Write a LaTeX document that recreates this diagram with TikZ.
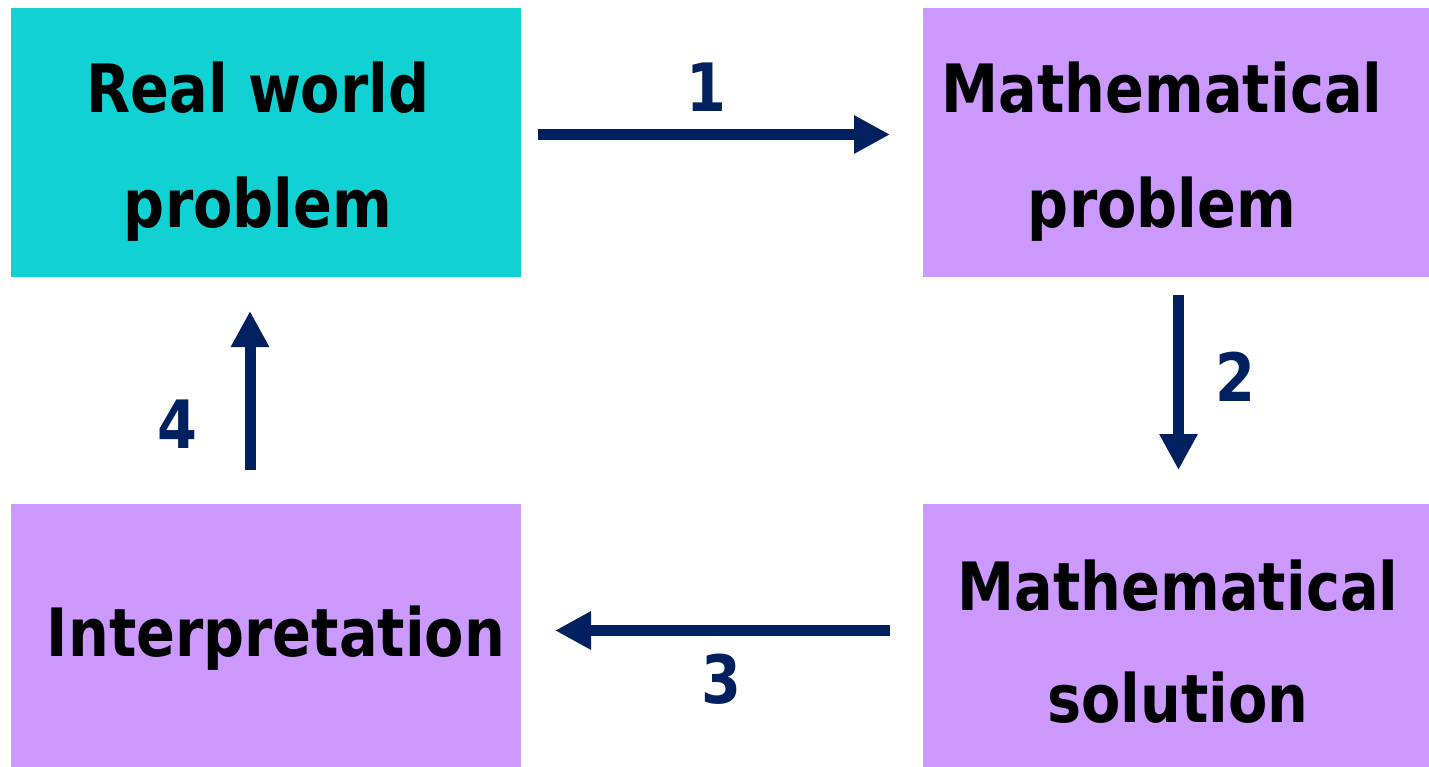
\documentclass[tikz,border=0pt]{standalone}
\usepackage{fontspec}
\usetikzlibrary{arrows.meta}
\newfontfamily\boxfont[FakeStretch=0.86]{DejaVu Sans}
\definecolor{realcyan}{HTML}{11D1D3}
\definecolor{lavender}{HTML}{CC99FF}
\definecolor{navyarrow}{HTML}{002060}
\tikzset{
  boxtext/.style={anchor=base, inner sep=0pt, font=\boxfont\bfseries\fontsize{50}{60}\selectfont, text=black},
  numlabel/.style={anchor=base, inner sep=0pt, font=\boxfont\bfseries\fontsize{50}{60}\selectfont, text=navyarrow},
  flow/.style={draw=navyarrow, line width=8.25pt, -{Triangle[length=27pt,width=27pt]}},
}
\begin{document}
\begin{tikzpicture}[x=0.75pt,y=-0.75pt]
\useasboundingbox (0,0) rectangle (1429,767);
\fill[white] (0,0) rectangle (1429,767);
% boxes
\fill[realcyan] (11,8) rectangle (521,277);
\node[inner sep=0pt, minimum width=510*0.75pt, minimum height=269*0.75pt] (rw) at (266,142.5) {};
\fill[lavender] (923,8) rectangle (1429,277);
\node[inner sep=0pt, minimum width=506*0.75pt, minimum height=269*0.75pt] (mp) at (1176,142.5) {};
\fill[lavender] (923,504) rectangle (1429,767);
\node[inner sep=0pt, minimum width=506*0.75pt, minimum height=263*0.75pt] (ms) at (1176,635.5) {};
\fill[lavender] (11,504) rectangle (521,767);
\node[inner sep=0pt, minimum width=510*0.75pt, minimum height=263*0.75pt] (ip) at (266,635.5) {};
% texts
\node[boxtext] (rw1) at (258,113) {Real world};
\node[boxtext] (rw2) at (258,227) {problem};
\node[boxtext] (mp1) at (1162,113) {Mathematical};
\node[boxtext] (mp2) at (1162,227) {problem};
\node[boxtext] (ms1) at (1178,610) {Mathematical};
\node[boxtext] (ms2) at (1178,722) {solution};
\node[boxtext] (ip1) at (276,656) {Interpretation};
% arrow end points
\coordinate (a1s) at (538,134.5);
\coordinate (a1e) at (890,134.5);
\coordinate (a2s) at (1178.5,295);
\coordinate (a2e) at (1178.5,470);
\coordinate (a3s) at (890,630.5);
\coordinate (a3e) at (555,630.5);
\coordinate (a4s) at (250,470);
\coordinate (a4e) at (250,311);
\draw[flow] (a1s) -- (a1e);
\draw[flow] (a2s) -- (a2e);
\draw[flow] (a3s) -- (a3e);
\draw[flow] (a4s) -- (a4e);
% labels
\node[numlabel] (n1) at (706,112) {1};
\node[numlabel] (n2) at (1235,401) {2};
\node[numlabel] (n3) at (721,703) {3};
\node[numlabel] (n4) at (177,448) {4};
\end{tikzpicture}
\end{document}
